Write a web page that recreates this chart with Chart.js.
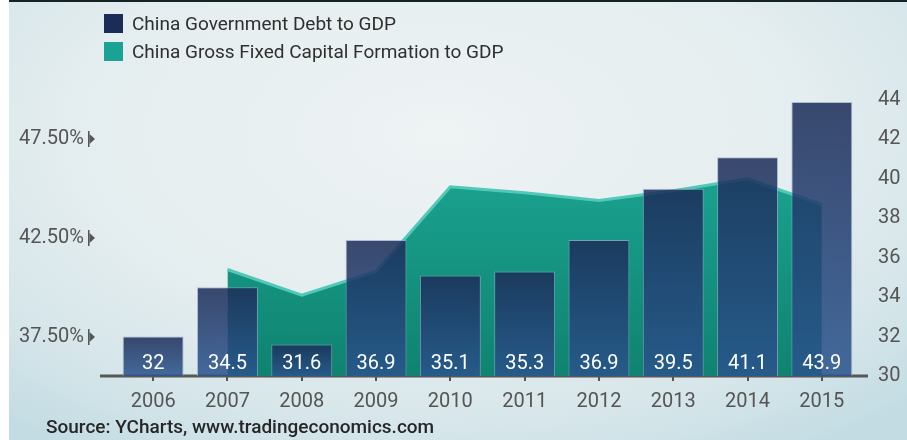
<!DOCTYPE html>
<html>
<head>
<meta charset="utf-8">
<script src="https://cdn.jsdelivr.net/npm/chart.js@4.4.1/dist/chart.umd.min.js"></script>
<style>
    html, body { margin: 0; padding: 0; background: #fff; }
    #wrap {
        position: relative;
        width: 907px;
        height: 440px;
        overflow: hidden;
        font-family: Roboto, 'DejaVu Sans', sans-serif;
    }
    #panel {
        position: absolute;
        left: 9px; top: 0; right: 0; bottom: 0;
        border-top: 2px solid #142326;
        background: radial-gradient(ellipse 75% 85% at 48% 30%, #eef3f4 0%, #e4edef 55%, #d4e5e9 82%, #c3dce3 100%);
    }
    #performance { position: absolute; left: 0; top: 0; }
    #legend { position: absolute; left: 104px; top: 14px; }
    .item { height: 19px; margin-bottom: 9px; display: flex; align-items: center; }
    .box { width: 19px; height: 19px; }
    .item span { margin-left: 9px; font-size: 19px; line-height: 19px; color: #2f2f2f; white-space: nowrap; }
    #source {
        position: absolute; left: 46px; top: 416px;
        font-size: 19px; font-weight: 500; line-height: 22px; color: #262626;
    }
</style>
</head>
<body>
<div id="wrap">
    <div id="panel"></div>
    <canvas id="performance" width="907" height="440"></canvas>
    <div id="legend"></div>
    <div id="source">Source: YCharts, www.tradingeconomics.com</div>
</div>
<script>
const years = ['2006', '2007', '2008', '2009', '2010', '2011', '2012', '2013', '2014', '2015'];
const debtToGdp = [32, 34.5, 31.6, 36.9, 35.1, 35.3, 36.9, 39.5, 41.1, 43.9];
const capitalFormationToGdp = [null, 40.9, 39.6, 40.8, 45.1, 44.8, 44.4, 44.9, 45.5, 44.2];
const pctTicks = [37.5, 42.5, 47.5];
const debtTicks = [30, 32, 34, 36, 38, 40, 42, 44];

const seriesNames = ['China Government Debt to GDP', 'China Gross Fixed Capital Formation to GDP'];
const seriesColors = ['#1b2d56', '#1aa394'];

const canvas = document.getElementById('performance');
const FONT = 'Roboto, "DejaVu Sans", sans-serif';

// bars get a top-to-bottom gradient of their own
function barFill(c) {
    const chart = c.chart;
    if (!chart.chartArea || c.type !== 'data') return 'rgba(36,62,110,0.86)';
    const y = chart.scales.yDebt;
    const top = y.getPixelForValue(c.raw);
    const bottom = y.getPixelForValue(y.min);
    const g = chart.ctx.createLinearGradient(0, top, 0, bottom);
    g.addColorStop(0, 'rgba(28,44,88,0.86)');
    g.addColorStop(1, 'rgba(42,84,142,0.86)');
    return g;
}

function areaFill(c) {
    const chart = c.chart;
    if (!chart.chartArea) return '#16967f';
    const y = chart.scales.yPct;
    const g = chart.ctx.createLinearGradient(0, y.getPixelForValue(46), 0, chart.chartArea.bottom);
    g.addColorStop(0, '#1aa390');
    g.addColorStop(1, '#0f8370');
    return g;
}

// axis base line, wider than the plot area
const baseLine = {
    id: 'baseLine',
    beforeDatasetsDraw(chart) {
        const ctx = chart.ctx;
        ctx.save();
        ctx.fillStyle = '#575757';
        ctx.fillRect(100, chart.chartArea.bottom - 1.5, 768, 3);
        ctx.restore();
    }
};

// small bar + arrow after the % labels
const pctMarkers = {
    id: 'pctMarkers',
    afterDraw(chart) {
        const ctx = chart.ctx;
        const y = chart.scales.yPct;
        ctx.save();
        ctx.fillStyle = '#555';
        y.ticks.forEach(t => {
            const py = Math.round(y.getPixelForValue(t.value));
            ctx.fillRect(88, py - 8, 1.5, 16);
            ctx.beginPath();
            ctx.moveTo(89.5, py - 5);
            ctx.lineTo(95, py);
            ctx.lineTo(89.5, py + 5);
            ctx.closePath();
            ctx.fill();
        });
        ctx.restore();
    }
};

// values written at the foot of each bar
const barValues = {
    id: 'barValues',
    afterDraw(chart) {
        const ctx = chart.ctx;
        const xs = chart.scales.x;
        const ys = chart.scales.yDebt;
        const base = ys.getPixelForValue(ys.min);
        ctx.save();
        ctx.fillStyle = '#ffffff';
        ctx.font = '20px ' + FONT;
        ctx.textAlign = 'center';
        ctx.textBaseline = 'alphabetic';
        debtToGdp.forEach((v, i) => {
            ctx.fillText(String(v), xs.getPixelForValue(i), base - 7);
        });
        ctx.restore();
    }
};

const chart = new Chart(canvas, {
    data: {
        labels: years,
        datasets: [
            {
                type: 'bar',
                label: seriesNames[0],
                data: debtToGdp,
                yAxisID: 'yDebt',
                order: 1,
                backgroundColor: barFill,
                borderColor: 'rgba(150,168,200,0.7)',
                borderWidth: 1,
                borderSkipped: 'bottom',
                barPercentage: 0.82,
                categoryPercentage: 1
            },
            {
                type: 'line',
                label: seriesNames[1],
                data: capitalFormationToGdp,
                yAxisID: 'yPct',
                order: 2,
                fill: 'start',
                backgroundColor: areaFill,
                borderColor: '#52c8b9',
                borderWidth: 3,
                pointRadius: 0,
                tension: 0
            }
        ]
    },
    options: {
        responsive: false,
        devicePixelRatio: 1,
        animation: false,
        layout: { padding: { top: 100, left: 0, right: 0, bottom: 0 } },
        scales: {
            x: {
                offset: true,
                grid: {
                    display: true,
                    drawOnChartArea: false,
                    drawTicks: true,
                    tickLength: 5,
                    lineWidth: 2,
                    color: '#555',
                    offset: false
                },
                border: { display: false },
                ticks: { color: '#555', padding: 9, font: { family: FONT, size: 20 } },
                afterFit(s) { s.height = 64; }
            },
            yPct: {
                position: 'left',
                min: 35.5,
                max: 49.5,
                afterBuildTicks(s) { s.ticks = pctTicks.map(v => ({ value: v })); },
                grid: { display: false, drawTicks: false },
                border: { display: false },
                ticks: {
                    color: '#555',
                    padding: 32,
                    font: { family: FONT, size: 20 },
                    callback: v => `${v.toFixed(2)}%`
                },
                afterFit(s) { s.width = 116; }
            },
            yDebt: {
                position: 'right',
                min: 30,
                max: 44,
                afterBuildTicks(s) { s.ticks = debtTicks.map(v => ({ value: v })); },
                grid: { display: false, drawTicks: false },
                border: { display: false },
                ticks: { color: '#555', padding: 19, font: { family: FONT, size: 20 } },
                afterFit(s) { s.width = 48; }
            }
        },
        plugins: {
            legend: { display: false },
            tooltip: { enabled: false }
        }
    },
    plugins: [baseLine, pctMarkers, barValues]
});

// html legend
const legend = document.getElementById('legend');
chart.data.datasets.forEach((ds, i) => {
    const row = document.createElement('div');
    row.className = 'item';
    row.innerHTML = `<div class="box" style="background:${seriesColors[i]}"></div><span>${ds.label}</span>`;
    legend.appendChild(row);
});
</script>
</body>
</html>
